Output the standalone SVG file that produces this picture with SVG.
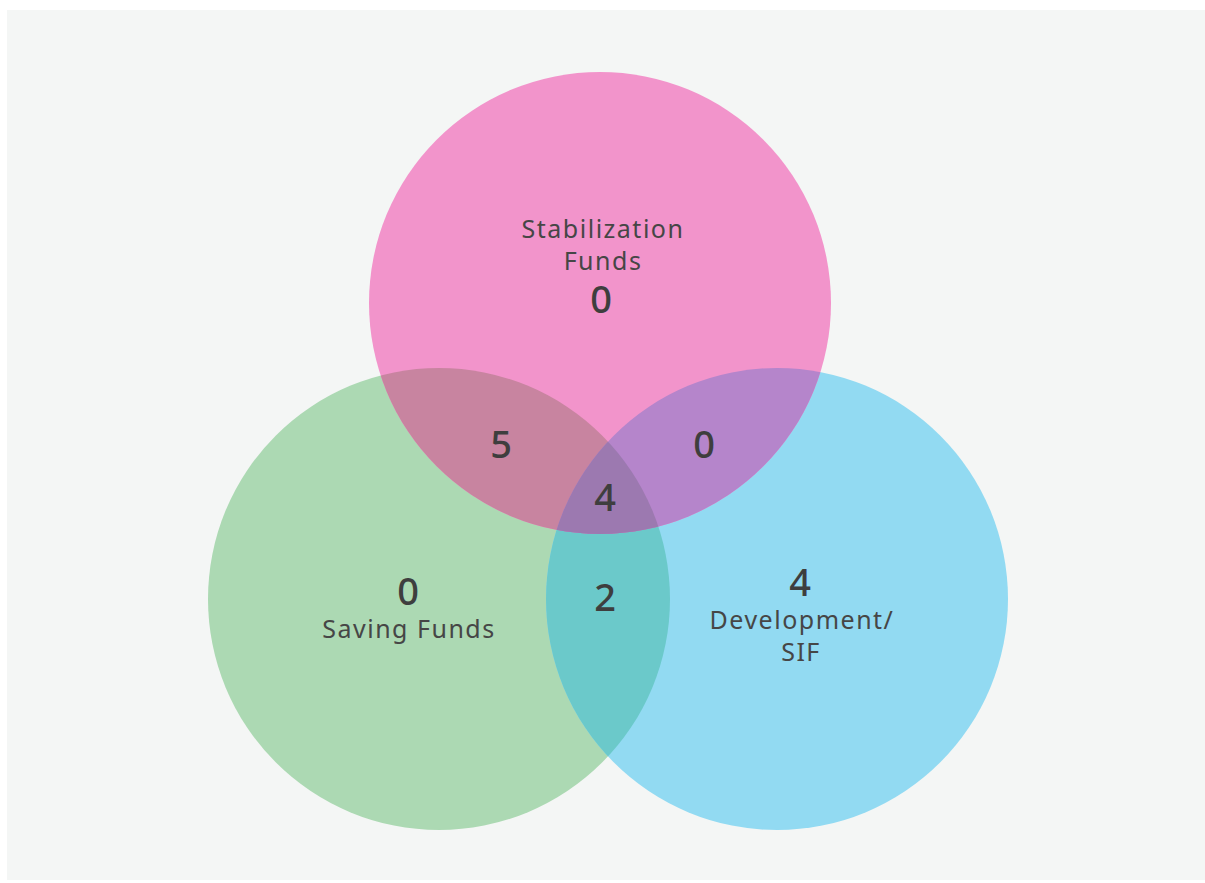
<svg xmlns="http://www.w3.org/2000/svg" width="1205" height="883" viewBox="0 0 1205 883">
<style>
.lbl{font-family:"Noto Sans","Liberation Sans",sans-serif;font-size:25px;letter-spacing:1.5px;fill:#464646;text-anchor:middle}
.num{font-family:"Noto Sans","Liberation Sans",sans-serif;font-size:38px;font-weight:500;fill:#3e3e3e;text-anchor:middle}
</style>
<defs>
<clipPath id="cP"><circle cx="600" cy="303" r="231"/></clipPath>
<clipPath id="cG"><circle cx="439" cy="599" r="231"/></clipPath>
<clipPath id="cB"><circle cx="777" cy="599" r="231"/></clipPath>
</defs>
<rect width="1205" height="883" fill="#ffffff"/>
<rect x="7" y="10" width="1198" height="870" fill="#f4f6f5"/>
<g id="savings">
<circle cx="439" cy="599" r="231" fill="#acd9b3"/>
</g>
<g id="development">
<circle cx="777" cy="599" r="231" fill="#92daf2"/>
</g>
<g id="stabilization">
<circle cx="600" cy="303" r="231" fill="#f294cb"/>
</g>
<g id="overlaps">
<circle cx="777" cy="599" r="231" fill="#6bc9ca" clip-path="url(#cG)"/>
<circle cx="439" cy="599" r="231" fill="#c884a0" clip-path="url(#cP)"/>
<circle cx="777" cy="599" r="231" fill="#b585cb" clip-path="url(#cP)"/>
<g clip-path="url(#cP)"><circle cx="777" cy="599" r="231" fill="#9c79b0" clip-path="url(#cG)"/></g>
</g>
<g id="labels">
<text class="lbl" x="603" y="238">Stabilization</text>
<text class="lbl" x="603" y="270">Funds</text>
<text class="num" x="601" y="313">0</text>
<text class="num" x="501" y="458">5</text>
<text class="num" x="704" y="458">0</text>
<text class="num" x="605" y="511">4</text>
<text class="num" x="605" y="611">2</text>
<text class="num" x="408" y="605">0</text>
<text class="lbl" x="409" y="638">Saving Funds</text>
<text class="num" x="800" y="596">4</text>
<text class="lbl" x="802" y="629">Development/</text>
<text class="lbl" x="801" y="661">SIF</text>
</g>
</svg>
